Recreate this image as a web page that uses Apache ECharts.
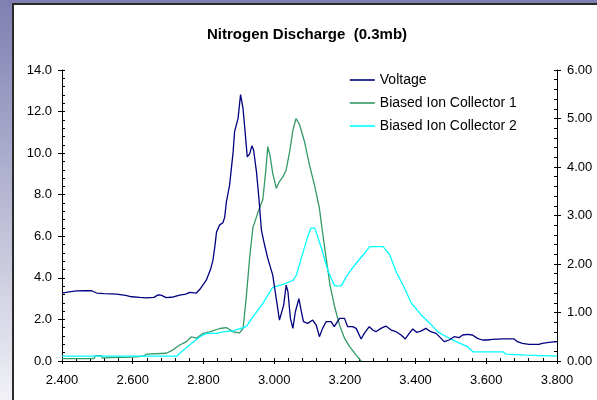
<!DOCTYPE html>
<html>
<head>
<meta charset="utf-8">
<script src="https://cdn.jsdelivr.net/npm/echarts@6/dist/echarts.min.js"></script>
<style>
  html, body { margin: 0; padding: 0; }
  #chart { width: 597px; height: 400px; }
</style>
</head>
<body>
<div id="chart"></div>
<script>
// Voltage trace (left axis)
const voltageX = [2.400,2.420,2.441,2.465,2.484,2.498,2.520,2.554,2.580,2.597,2.620,2.639,2.660,2.672,2.680,2.695,2.715,2.733,2.750,2.761,2.780,2.790,2.808,2.820,2.827,2.833,2.837,2.846,2.855,2.860,2.865,2.874,2.884,2.888,2.898,2.905,2.912,2.917,2.924,2.931,2.937,2.942,2.950,2.957,2.964,2.973,2.982,2.996,3.006,3.015,3.020,3.027,3.034,3.039,3.046,3.053,3.060,3.070,3.077,3.083,3.095,3.109,3.119,3.128,3.137,3.147,3.161,3.170,3.185,3.199,3.208,3.222,3.232,3.246,3.255,3.269,3.279,3.288,3.302,3.316,3.331,3.345,3.359,3.371,3.382,3.392,3.403,3.415,3.429,3.443,3.458,3.472,3.481,3.495,3.509,3.523,3.533,3.547,3.561,3.575,3.589,3.603,3.617,3.646,3.679,3.688,3.702,3.721,3.749,3.758,3.777,3.800];
const voltage = [3.27,3.33,3.37,3.38,3.38,3.27,3.24,3.22,3.16,3.09,3.06,3.04,3.06,3.18,3.17,3.05,3.08,3.17,3.22,3.30,3.27,3.45,3.89,4.40,4.85,5.60,6.20,6.55,6.65,6.90,7.66,8.46,10.06,11.02,11.67,12.82,12.15,11.19,9.82,9.98,10.35,10.14,9.10,7.82,6.30,5.58,4.94,4.13,3.00,1.97,1.89,2.69,3.65,3.33,2.05,1.57,2.37,3.00,2.37,1.89,1.81,1.97,1.73,1.17,1.57,1.89,1.89,1.65,2.05,2.05,1.65,1.65,1.57,1.06,1.33,1.65,1.49,1.41,1.57,1.68,1.49,1.41,1.25,1.06,1.33,1.54,1.38,1.44,1.57,1.41,1.33,1.09,0.93,1.01,1.17,1.12,1.25,1.28,1.25,1.09,1.01,1.01,1.04,1.06,1.06,0.93,0.85,0.80,0.80,0.85,0.90,0.93];

// Biased Ion Collector 1 (right axis)
const collector1X = [2.400,2.490,2.495,2.510,2.515,2.530,2.600,2.630,2.639,2.695,2.714,2.733,2.752,2.766,2.780,2.799,2.818,2.846,2.865,2.884,2.902,2.912,2.921,2.931,2.940,2.954,2.968,2.976,2.982,2.989,2.996,3.006,3.015,3.025,3.034,3.044,3.053,3.062,3.072,3.086,3.100,3.114,3.128,3.136,3.147,3.158,3.170,3.185,3.199,3.213,3.232,3.246];
const collector1 = [0.05,0.05,0.11,0.11,0.06,0.07,0.08,0.10,0.14,0.16,0.23,0.33,0.40,0.50,0.47,0.57,0.60,0.67,0.69,0.60,0.58,0.67,1.30,2.15,2.75,3.06,3.33,3.90,4.42,4.21,3.87,3.56,3.70,3.80,3.94,4.32,4.76,5.00,4.87,4.52,4.04,3.63,3.15,2.70,2.12,1.57,1.15,0.74,0.47,0.30,0.12,0.00];

// Biased Ion Collector 2 (right axis)
const collector2X = [2.400,2.495,2.500,2.505,2.724,2.738,2.766,2.790,2.808,2.837,2.855,2.884,2.921,2.940,2.968,2.996,3.025,3.053,3.063,3.082,3.095,3.104,3.115,3.134,3.153,3.171,3.190,3.204,3.228,3.252,3.270,3.308,3.327,3.345,3.369,3.388,3.416,3.440,3.463,3.487,3.515,3.548,3.562,3.647,3.656,3.712,3.800];
const collector2 = [0.10,0.10,0.12,0.10,0.10,0.19,0.36,0.50,0.57,0.57,0.60,0.62,0.71,0.91,1.19,1.52,1.58,1.66,1.77,2.25,2.56,2.74,2.74,2.32,1.84,1.55,1.55,1.74,1.98,2.19,2.36,2.36,2.19,1.84,1.50,1.19,0.95,0.78,0.60,0.50,0.40,0.29,0.19,0.19,0.14,0.12,0.10];

const seriesNames = ['Voltage', 'Biased Ion Collector 1', 'Biased Ion Collector 2'];
const titleText = 'Nitrogen Discharge  (0.3mb)';

const pairs = (xs, ys) => xs.map((x, i) => [x, ys[i]]);
const FONT = "'Liberation Sans', Arial, sans-serif";
const INK = '#000';

const chart = echarts.init(document.getElementById('chart'), null, { renderer: 'canvas' });

// shared bits for the tick-only companion axes (inner half of crossing ticks + minor ticks)
const innerTicks = (len, split) => ({
  axisLine: { show: false },
  axisLabel: { show: false },
  splitLine: { show: false },
  axisTick: { show: true, inside: true, length: len, lineStyle: { color: INK, width: 1 } },
  minorTick: { show: true, splitNumber: split, length: len, lineStyle: { color: INK, width: 1 } }
});

chart.setOption({
  animation: false,
  backgroundColor: 'transparent',
  graphic: [
    {
      type: 'rect', z: -20, silent: true,
      shape: { x: 0, y: 0, width: 597, height: 400 },
      style: {
        fill: new echarts.graphic.LinearGradient(0, 0, 0, 1, [
          { offset: 0, color: '#7f7fb2' },
          { offset: 1, color: '#f1f1f6' }
        ])
      }
    },
    {
      type: 'rect', z: -19, silent: true,
      shape: { x: 13, y: 4, width: 600, height: 410 },
      style: { fill: '#fff', stroke: '#2b2b2b', lineWidth: 2 }
    }
  ],
  title: {
    text: titleText,
    left: 207, top: 27, padding: 0,
    textStyle: { fontFamily: FONT, fontSize: 15, fontWeight: 'bold', color: INK }
  },
  legend: {
    orient: 'vertical',
    left: 349, top: 73, padding: 0,
    itemWidth: 25, itemHeight: 14, itemGap: 9,
    itemStyle: { opacity: 0 },
    lineStyle: { width: 1.6 },
    textStyle: { fontFamily: FONT, fontSize: 14, color: INK },
    data: seriesNames
  },
  grid: { left: 62, right: 40, top: 70, bottom: 39 },
  xAxis: [
    {
      type: 'value', position: 'bottom', min: 2.4, max: 3.8, interval: 0.2,
      axisLine: { show: true, onZero: false, lineStyle: { color: INK, width: 1 } },
      axisTick: { show: true, inside: false, length: 3, lineStyle: { color: INK } },
      axisLabel: { margin: 13, fontFamily: FONT, fontSize: 13, color: INK, formatter: v => v.toFixed(3) },
      splitLine: { show: false }
    },
    Object.assign({ type: 'value', position: 'bottom', min: 2.4, max: 3.8, interval: 0.2 }, innerTicks(3, 5))
  ],
  yAxis: [
    {
      type: 'value', position: 'left', min: 0, max: 14, interval: 2,
      axisLine: { show: true, onZero: false, lineStyle: { color: INK, width: 1 } },
      axisTick: { show: true, inside: false, length: 4, lineStyle: { color: INK } },
      axisLabel: { margin: 10, fontFamily: FONT, fontSize: 13, color: INK, formatter: v => v.toFixed(1) },
      splitLine: { show: false }
    },
    Object.assign({ type: 'value', position: 'left', min: 0, max: 14, interval: 2 }, innerTicks(3, 5)),
    {
      type: 'value', position: 'right', min: 0, max: 6, interval: 1,
      axisLine: { show: true, onZero: false, lineStyle: { color: INK, width: 1 } },
      axisTick: { show: true, inside: false, length: 4, lineStyle: { color: INK } },
      axisLabel: { margin: 10, fontFamily: FONT, fontSize: 13, color: INK, formatter: v => v.toFixed(2) },
      splitLine: { show: false }
    },
    Object.assign({ type: 'value', position: 'right', min: 0, max: 6, interval: 1 }, innerTicks(3, 5))
  ],
  series: [
    {
      name: seriesNames[0], type: 'line', xAxisIndex: 0, yAxisIndex: 0,
      data: pairs(voltageX, voltage), showSymbol: false, symbol: 'none',
      lineStyle: { color: '#000080', width: 1.3 }, itemStyle: { color: '#000080' }, z: 3
    },
    {
      name: seriesNames[1], type: 'line', xAxisIndex: 0, yAxisIndex: 2,
      data: pairs(collector1X, collector1), showSymbol: false, symbol: 'none',
      lineStyle: { color: '#339966', width: 1.3 }, itemStyle: { color: '#339966' }, z: 2
    },
    {
      name: seriesNames[2], type: 'line', xAxisIndex: 0, yAxisIndex: 2,
      data: pairs(collector2X, collector2), showSymbol: false, symbol: 'none',
      lineStyle: { color: '#00ffff', width: 1.3 }, itemStyle: { color: '#00ffff' }, z: 2
    }
  ]
});
</script>
</body>
</html>
